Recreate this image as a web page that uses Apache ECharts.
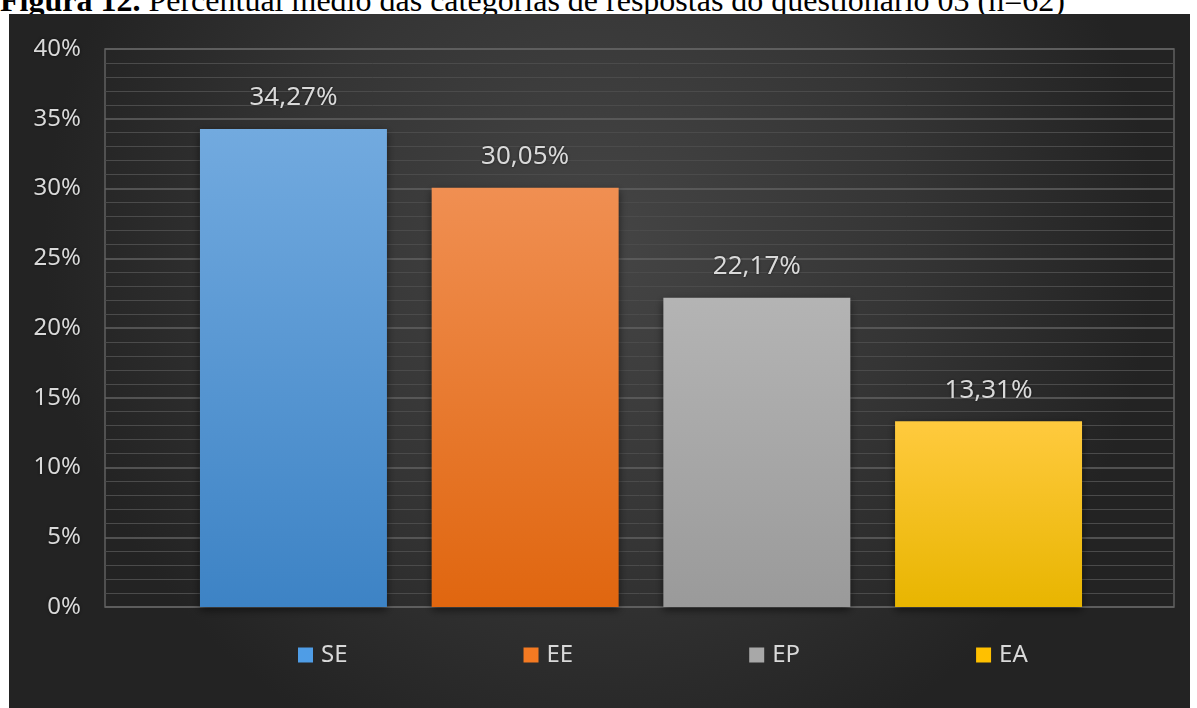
<!DOCTYPE html>
<html>
<head>
<meta charset="utf-8">
<script src="https://cdn.jsdelivr.net/npm/echarts@6/dist/echarts.min.js"></script>
<style>
  html, body { margin: 0; padding: 0; background: #ffffff; width: 1197px; height: 708px; overflow: hidden; }
  #caption {
    position: absolute; left: 0; top: -16px; white-space: nowrap;
    font-family: "Liberation Serif", "DejaVu Serif", serif; font-size: 32px; line-height: 32px; color: #000;
  }
  #caption b { font-weight: bold; }
  #chart { position: absolute; left: 9px; top: 14px; width: 1181px; height: 694px; }
</style>
</head>
<body>
<div id="caption"><b>Figura 12.</b> Percentual médio das categorias de respostas do questionário 03 (n=62)</div>
<div id="chart"></div>
<script>
// Response categories and their mean share (%)
const categories = ['SE', 'EE', 'EP', 'EA'];
const values = [34.27, 30.05, 22.17, 13.31];
const yTicks = [0, 5, 10, 15, 20, 25, 30, 35, 40];

// Bar fills (top -> bottom) and legend swatches
const barTop = ['#72aadf', '#f08f52', '#b4b4b4', '#ffca3e'];
const barBottom = ['#3d83c5', '#e0660f', '#9a9a9a', '#e8b500'];
const swatch = ['#4f9de6', '#f47a22', '#a8a8a8', '#ffc000'];

const labelFont = 'Noto Sans';
const textColor = '#d9d9d9';

function fmt(v) { return v.toFixed(2).replace('.', ',') + '%'; }

const chart = echarts.init(document.getElementById('chart'), null, { renderer: 'canvas' });

const series = categories.map((name, i) => ({
  name: name,
  type: 'bar',
  stack: 'total',
  xAxisIndex: 1,
  yAxisIndex: 1,
  barCategoryGap: '19.3%',
  data: categories.map((c, j) => (j === i ? values[i] : null)),
  itemStyle: {
    color: new echarts.graphic.LinearGradient(0, 0, 0, 1, [
      { offset: 0, color: barTop[i] },
      { offset: 1, color: barBottom[i] }
    ]),
    shadowColor: 'rgba(0,0,0,0.55)',
    shadowBlur: 8,
    shadowOffsetY: 3
  },
  label: {
    show: true,
    position: 'top',
    distance: 18,
    color: textColor,
    fontFamily: labelFont,
    fontSize: 26,
    textShadowColor: 'rgba(0,0,0,0.6)',
    textShadowBlur: 3,
    formatter: p => fmt(p.value)
  }
}));

chart.setOption({
  backgroundColor: {
    type: 'radial', x: 0.5, y: 0.33, r: 0.8,
    colorStops: [
      { offset: 0, color: '#454545' },
      { offset: 0.55, color: '#353535' },
      { offset: 1, color: '#232323' }
    ]
  },
  animation: false,
  grid: [
    { left: 96, right: 16, top: 35, bottom: 101, show: true, borderColor: '#606060', borderWidth: 1.5 },
    { left: 168.6, right: 85.6, top: 35, bottom: 101 }
  ],
  legend: {
    data: categories.map((c, i) => ({ name: c, itemStyle: { color: swatch[i] } })),
    left: 284,
    top: 624,
    itemWidth: 15,
    itemHeight: 15,
    itemGap: 176,
    icon: 'rect',
    textStyle: { color: textColor, fontFamily: labelFont, fontSize: 24, padding: [0, 0, 0, 3] }
  },
  xAxis: [
    { type: 'value', gridIndex: 0, show: false, min: 0, max: 1 },
    { type: 'category', gridIndex: 1, data: categories, show: false }
  ],
  yAxis: [
    {
      type: 'value', gridIndex: 0, min: yTicks[0], max: yTicks[yTicks.length - 1], interval: 5,
      axisLine: { show: false }, axisTick: { show: false },
      axisLabel: {
        color: textColor, fontFamily: labelFont, fontSize: 24, margin: 24,
        textShadowColor: 'rgba(0,0,0,0.6)', textShadowBlur: 3,
        formatter: '{value}%'
      },
      splitLine: { show: true, lineStyle: { color: '#626262', width: 1.5 } },
      minorTick: { show: false, splitNumber: 5 },
      minorSplitLine: { show: true, lineStyle: { color: '#4b4b4b', width: 1 } }
    },
    {
      type: 'value', gridIndex: 1, min: yTicks[0], max: yTicks[yTicks.length - 1], interval: 5,
      show: false, splitLine: { show: false }
    }
  ],
  series: series
});
</script>
</body>
</html>
